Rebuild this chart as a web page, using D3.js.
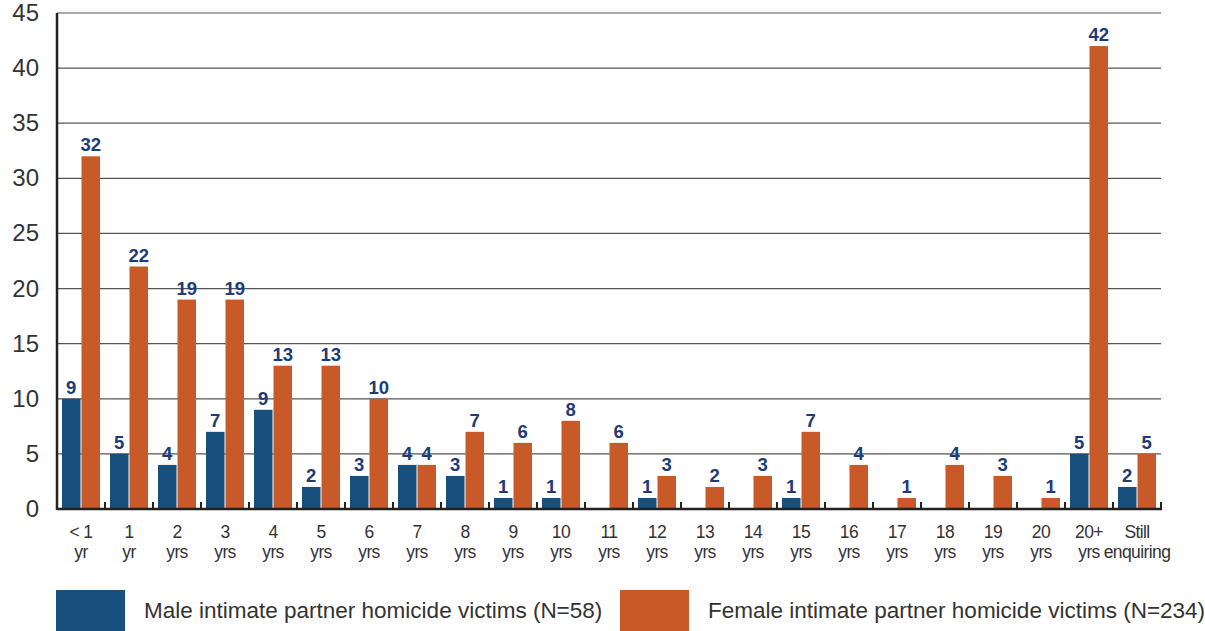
<!DOCTYPE html>
<html>
<head>
<meta charset="utf-8">
<script src="https://cdn.jsdelivr.net/npm/d3@7"></script>
<style>
  body { margin: 0; background: #fff; }
  svg text { font-family: "Liberation Sans", Arial, sans-serif; }
</style>
</head>
<body>
<div id="chart"></div>
<script>
// categories and values
var categories = ["< 1|yr", "1|yr", "2|yrs", "3|yrs", "4|yrs", "5|yrs", "6|yrs", "7|yrs", "8|yrs", "9|yrs",
  "10|yrs", "11|yrs", "12|yrs", "13|yrs", "14|yrs", "15|yrs", "16|yrs", "17|yrs", "18|yrs", "19|yrs",
  "20|yrs", "20+|yrs", "Still|enquiring"];
var maleValues = [10, 5, 4, 7, 9, 2, 3, 4, 3, 1, 1, 0, 1, 0, 0, 1, 0, 0, 0, 0, 0, 5, 2];
var maleLabels = ["9", "5", "4", "7", "9", "2", "3", "4", "3", "1", "1", "", "1", "", "", "1", "", "", "", "", "", "5", "2"];
var femaleValues = [32, 22, 19, 19, 13, 13, 10, 4, 7, 6, 8, 6, 3, 2, 3, 7, 4, 1, 4, 3, 1, 42, 5];
var yTicks = [0, 5, 10, 15, 20, 25, 30, 35, 40, 45];
var seriesNames = ["Male intimate partner homicide victims (N=58)", "Female intimate partner homicide victims (N=234)"];

var width = 1205, height = 631;
var plotLeft = 57, plotRight = 1161, plotTop = 13, plotBottom = 509;
var colors = ["#17507c", "#c75a28"];

var svg = d3.select("#chart").append("svg")
  .attr("width", width)
  .attr("height", height);

var x0 = d3.scaleBand().domain(d3.range(categories.length)).range([plotLeft, plotRight]);
var x1 = d3.scaleBand().domain([0, 1]).range([5, x0.bandwidth() - 5]).paddingInner(0.05);
var y = d3.scaleLinear().domain([0, 45]).range([plotBottom, plotTop]);

// gridlines
svg.append("g").selectAll("line")
  .data(yTicks.filter(function(d) { return d > 0; }))
  .enter().append("line")
  .attr("x1", plotLeft).attr("x2", plotRight)
  .attr("y1", function(d) { return y(d); })
  .attr("y2", function(d) { return y(d); })
  .attr("stroke", "#555")
  .attr("stroke-width", 1.2);

// y tick labels
svg.append("g").selectAll("text")
  .data(yTicks)
  .enter().append("text")
  .attr("x", 39)
  .attr("y", function(d) { return y(d) + 8; })
  .attr("text-anchor", "end")
  .attr("font-size", 24)
  .attr("fill", "#333")
  .text(function(d) { return d; });

var groups = svg.append("g").selectAll("g")
  .data(categories)
  .enter().append("g")
  .attr("transform", function(d, i) { return "translate(" + x0(i) + ",0)"; });

// bars
var series = [maleValues, femaleValues];
groups.selectAll("rect")
  .data(function(d, i) { return [0, 1].map(function(s) { return { s: s, v: series[s][i] }; }); })
  .enter().append("rect")
  .filter(function(d) { return d.v > 0; })
  .attr("x", function(d) { return x1(d.s); })
  .attr("width", x1.bandwidth())
  .attr("y", function(d) { return y(d.v); })
  .attr("height", function(d) { return plotBottom - y(d.v); })
  .attr("fill", function(d) { return colors[d.s]; });

// value labels
groups.selectAll(".val")
  .data(function(d, i) {
    return [{ s: 0, v: maleValues[i], t: maleLabels[i] }, { s: 1, v: femaleValues[i], t: String(femaleValues[i]) }];
  })
  .enter().append("text")
  .attr("class", "val")
  .attr("x", function(d) { return x1(d.s) + x1.bandwidth() / 2; })
  .attr("y", function(d) { return y(d.v) - 5; })
  .attr("text-anchor", "middle")
  .attr("font-size", 18.5)
  .attr("font-weight", "bold")
  .attr("fill", "#1d3b78")
  .text(function(d) { return d.t; });

// category labels
groups.append("text")
  .attr("x", x0.bandwidth() / 2)
  .attr("y", 538)
  .attr("text-anchor", "middle")
  .attr("font-size", 17.5)
  .attr("letter-spacing", -0.6)
  .attr("fill", "#333")
  .selectAll("tspan")
  .data(function(d) { return d.split("|"); })
  .enter().append("tspan")
  .attr("x", x0.bandwidth() / 2)
  .attr("dy", function(d, i) { return i ? 20 : 0; })
  .text(function(d) { return d; });

// axes
svg.append("line")
  .attr("x1", plotLeft).attr("x2", plotLeft)
  .attr("y1", plotTop).attr("y2", plotBottom + 1)
  .attr("stroke", "#222").attr("stroke-width", 2.5);
svg.append("line")
  .attr("x1", plotLeft).attr("x2", plotRight + 1)
  .attr("y1", plotBottom).attr("y2", plotBottom)
  .attr("stroke", "#222").attr("stroke-width", 2.5);
svg.append("g").selectAll("line")
  .data(d3.range(1, categories.length + 1))
  .enter().append("line")
  .attr("x1", function(i) { return plotLeft + i * x0.step(); })
  .attr("x2", function(i) { return plotLeft + i * x0.step(); })
  .attr("y1", plotBottom).attr("y2", plotBottom - 7)
  .attr("stroke", "#222").attr("stroke-width", 2);

// legend
var legendX = [56, 620];
var legend = svg.append("g").selectAll("g")
  .data(seriesNames)
  .enter().append("g")
  .attr("transform", function(d, i) { return "translate(" + legendX[i] + ",590)"; });
legend.append("rect")
  .attr("width", 69).attr("height", 41)
  .attr("fill", function(d, i) { return colors[i]; });
legend.append("text")
  .attr("x", 88).attr("y", 28)
  .attr("font-size", 22.5)
  .attr("fill", "#333")
  .text(function(d) { return d; });
</script>
</body>
</html>
